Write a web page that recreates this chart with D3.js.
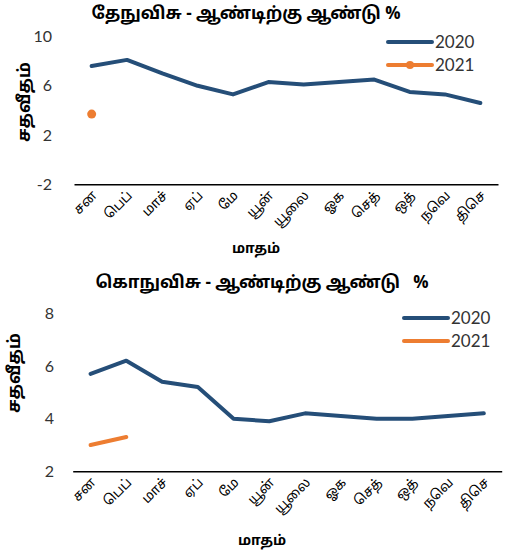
<!DOCTYPE html>
<html>
<head>
<meta charset="utf-8">
<script src="https://cdn.jsdelivr.net/npm/d3@7"></script>
<style>
  html, body { margin: 0; padding: 0; background: #fff; }
  svg { display: block; }
  .num { font-family: "Century Gothic", "Lato", "Open Sans", sans-serif; fill: #333; }
  .ta { font-family: "Noto Sans Tamil", "Latha", "Lohit Tamil", "Noto Sans", sans-serif; fill: #000; }
</style>
</head>
<body>
<script>
// ---- data ----
const months = ["சன", "பெப்", "மாச்", "ஏப்", "மே", "யூன்", "யூலை", "ஓக", "செத்", "ஒத்", "நவெ", "திசெ"];
const ncpi2020 = [7.6, 8.1, 7.0, 6.0, 5.3, 6.3, 6.1, 6.3, 6.5, 5.5, 5.3, 4.6];
const ncpi2021 = [3.7];
const ccpi2020 = [5.7, 6.2, 5.4, 5.2, 4.0, 3.9, 4.2, 4.1, 4.0, 4.0, 4.1, 4.2];
const ccpi2021 = [3.0, 3.3];
const ncpiTicks = [-2, 2, 6, 10];
const ccpiTicks = [2, 4, 6, 8];
const seriesNames = ["2020", "2021"];
const titles = ["தேநுவிசு - ஆண்டிற்கு ஆண்டு %", "கொநுவிசு - ஆண்டிற்கு ஆண்டு   %"];
const yLabel = "சதவீதம்";
const xLabel = "மாதம்";

const colors = ["#254E78", "#ED7D31"];

const svg = d3.select("body").append("svg").attr("width", 517).attr("height", 557);

function panel(cfg) {
  const g = svg.append("g");
  const x = d3.scaleBand().domain(months).range([cfg.x0, cfg.x1]);
  const y = d3.scaleLinear().domain(cfg.domain).range([cfg.yBottom, cfg.yTop]);

  // title
  g.append("text").attr("class", "ta")
    .attr("x", cfg.titleX).attr("y", cfg.titleY)
    .attr("text-anchor", "middle")
    .attr("font-size", 17).attr("font-weight", "bold")
    .style("white-space", "pre")
    .text(cfg.title);

  // y axis (labels only)
  const ya = d3.axisLeft(y).tickValues(cfg.ticks).tickSize(0).tickPadding(0).tickFormat(d => String(d));
  const yg = g.append("g").attr("transform", `translate(${cfg.yTickX},0)`).call(ya);
  yg.select(".domain").remove();
  yg.selectAll("text").attr("class", "num").attr("font-size", 16).attr("fill", "#333");

  // x axis
  const xa = d3.axisBottom(x).tickSize(0).tickPadding(0);
  const xg = g.append("g").attr("transform", `translate(0,${cfg.yBottom})`).call(xa);
  xg.select(".domain").attr("stroke", "#000").attr("stroke-width", 1.5);
  xg.selectAll("text")
    .attr("class", "ta")
    .attr("font-size", 13.5)
    .attr("text-anchor", "end")
    .attr("dy", null).attr("y", 0)
    .attr("transform", "translate(6,12) rotate(-45)")
    .attr("fill", "#000");

  // axis titles
  g.append("text").attr("class", "ta")
    .attr("transform", `translate(${cfg.yLabelX},${cfg.yLabelY}) rotate(-90)`)
    .attr("text-anchor", "middle").attr("dominant-baseline", "middle")
    .attr("font-size", 17).attr("font-weight", "bold")
    .text(yLabel);
  g.append("text").attr("class", "ta")
    .attr("x", cfg.xLabelX).attr("y", cfg.xLabelY)
    .attr("text-anchor", "middle")
    .attr("font-size", 14).attr("font-weight", "bold")
    .text(xLabel);

  const line = d3.line().x((d, i) => x(months[i]) + x.bandwidth() / 2).y(d => y(d));
  [cfg.s2020, cfg.s2021].forEach((s, k) => {
    if (s.length > 1) {
      g.append("path").datum(s).attr("d", line)
        .attr("fill", "none").attr("stroke", colors[k]).attr("stroke-width", 4)
        .attr("stroke-linecap", "round").attr("stroke-linejoin", "round");
    }
    if (cfg.markers[k]) {
      g.selectAll(null).data(s).enter().append("circle")
        .attr("cx", (d, i) => x(months[i]) + x.bandwidth() / 2)
        .attr("cy", d => y(d)).attr("r", 4.5).attr("fill", colors[k]);
    }
  });

  // legend
  seriesNames.forEach((n, k) => {
    const ly = cfg.legY + k * cfg.legStep;
    g.append("line").attr("x1", cfg.legX).attr("x2", cfg.legX + 44)
      .attr("y1", ly).attr("y2", ly)
      .attr("stroke", colors[k]).attr("stroke-width", 4).attr("stroke-linecap", "round");
    if (cfg.markers[k]) {
      g.append("circle").attr("cx", cfg.legX + 22).attr("cy", ly).attr("r", 4).attr("fill", colors[k]);
    }
    g.append("text").attr("class", "num")
      .attr("x", cfg.legX + 47).attr("y", ly).attr("dy", "0.35em")
      .attr("font-size", 17).attr("fill", "#222")
      .text(n);
  });
}

panel({
  title: titles[0], titleX: 246, titleY: 19,
  x0: 74, x1: 498, yTop: 36.5, yBottom: 184.3, domain: [-2, 10], ticks: ncpiTicks,
  yTickX: 52, yLabelX: 25, yLabelY: 102, xLabelX: 256, xLabelY: 253,
  s2020: ncpi2020, s2021: ncpi2021, markers: [false, true],
  legX: 388, legY: 42, legStep: 23
});

panel({
  title: titles[1], titleX: 262, titleY: 288,
  x0: 72.7, x1: 501.7, yTop: 313.3, yBottom: 471.3, domain: [2, 8], ticks: ccpiTicks,
  yTickX: 54, yLabelX: 15, yLabelY: 373, xLabelX: 262, xLabelY: 545,
  s2020: ccpi2020, s2021: ccpi2021, markers: [false, false],
  legX: 404, legY: 318, legStep: 23
});
</script>
</body>
</html>
